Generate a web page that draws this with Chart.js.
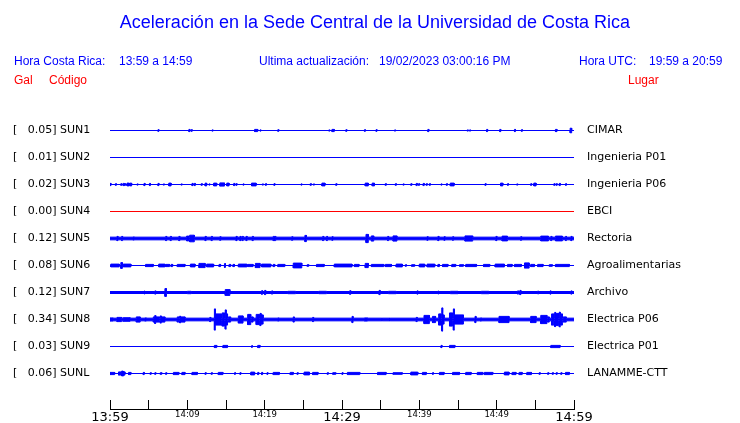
<!DOCTYPE html>
<html>
<head>
<meta charset="utf-8">
<script src="https://cdn.jsdelivr.net/npm/chart.js@4.4.1/dist/chart.umd.min.js"></script>
<style>
  body { margin: 0; background: #fff; }
  #wrap { position: relative; width: 740px; height: 423px; overflow: hidden; }
  canvas { position: absolute; left: 0; top: 0; }
  .t { position: absolute; font-family: "Liberation Sans", Arial, sans-serif; font-size: 12px;
       line-height: 14px; white-space: pre; color: #0000ff; }
  .red { color: #ff0000; }
  #title { font-size: 18px; line-height: 20px; left: 0; width: 750px; text-align: center; top: 12px; }
</style>
</head>
<body>
<div id="wrap">
  <canvas id="chart" width="740" height="423"></canvas>
  <div class="t" id="title">Aceleración en la Sede Central de la Universidad de Costa Rica</div>
  <div class="t" style="left:14px;top:54px">Hora Costa Rica:</div>
  <div class="t" style="left:119px;top:54px">13:59 a 14:59</div>
  <div class="t" style="left:259px;top:54px">Ultima actualización:</div>
  <div class="t" style="left:379px;top:54px">19/02/2023 03:00:16 PM</div>
  <div class="t" style="left:579px;top:54px">Hora UTC:</div>
  <div class="t" style="left:649px;top:54px">19:59 a 20:59</div>
  <div class="t red" style="left:14px;top:73px">Gal</div>
  <div class="t red" style="left:49px;top:73px">Código</div>
  <div class="t red" style="left:628px;top:73px">Lugar</div>
</div>
<script>
// estaciones (de arriba hacia abajo)
const codes = ['SUN1', 'SUN2', 'SUN3', 'SUN4', 'SUN5', 'SUN6', 'SUN7', 'SUN8', 'SUN9', 'SUNL'];
const peaks = ['0.05', '0.01', '0.02', '0.00', '0.12', '0.08', '0.12', '0.34', '0.03', '0.06'];
const places = ['CIMAR', 'Ingenieria P01', 'Ingenieria P06', 'EBCI', 'Rectoria',
  'Agroalimentarias', 'Archivo', 'Electrica P06', 'Electrica P01', 'LANAMME-CTT'];
const traceColors = ['#0000ff', '#0000ff', '#0000ff', '#ff0000', '#0000ff',
  '#0000ff', '#0000ff', '#0000ff', '#0000ff', '#0000ff'];

// eje de tiempo: minutos desde las 13:59
const xTickLabels = ['13:59', '', '14:09', '', '14:19', '', '14:29', '', '14:39', '', '14:49', '', '14:59'];

// amplitud de fondo de cada traza
const baseAmp = [0, 0, 0, 0, 1.35, 0, 1.0, 1.35, 0, 0];

// rafagas: [minuto inicio, minuto fin, amplitud]
const sun1 = [[6.2,6.2,1.2],[10.2,10.2,1.5],[10.5,10.5,1.2],[13.2,13.2,1.0],[18.7,19.1,1.5],[19.4,19.4,1.0],
  [21.7,21.7,1.2],[28.3,28.3,1.0],[28.7,29.0,1.5],[30.5,30.5,1.2],[32.9,32.9,1.2],[34.4,34.4,1.2],[36.8,36.8,1.0],
  [41.1,41.1,1.5],[46.2,46.2,1.0],[46.5,46.5,1.0],[48.7,48.7,1.5],[50.4,50.4,1.5],[52.3,52.3,1.5],[53.2,53.2,1.2],
  [57.6,57.8,1.5],[59.5,59.7,2.7]];
const sun2 = [];
const sun3 = [[0.0,0.0,1.5],[0.7,0.7,1.2],[1.4,1.4,1.2],[1.7,1.7,1.5],[1.9,1.9,1.2],[2.2,2.5,1.8],[2.6,2.8,1.8],
  [3.5,3.5,1.0],[4.4,4.4,1.5],[5.1,5.1,1.5],[6.2,6.2,1.5],[6.9,6.9,1.0],[7.6,7.9,1.8],[9.2,9.2,1.0],[10.6,10.6,1.5],
  [10.9,10.9,1.5],[11.8,11.8,1.2],[12.3,12.5,1.8],[12.8,12.8,1.0],[13.4,13.8,1.8],[14.2,14.8,2.0],[15.1,15.4,1.8],
  [16.0,16.0,1.5],[16.3,16.3,1.2],[17.2,17.2,1.0],[18.3,18.9,1.8],[19.7,19.7,1.0],[20.1,20.1,1.2],[21.2,21.2,1.2],
  [24.7,24.7,1.0],[25.9,25.9,1.2],[26.3,26.3,1.0],[27.4,27.8,1.8],[29.2,29.2,1.2],[33.0,33.4,1.8],[33.9,34.2,1.8],
  [35.6,35.6,1.2],[36.9,36.9,1.2],[37.9,37.9,1.0],[38.9,38.9,1.2],[39.6,39.6,1.5],[39.9,39.9,1.2],[40.5,40.5,1.5],
  [40.9,40.9,1.2],[41.3,41.3,1.2],[42.8,42.8,1.0],[43.5,43.5,1.2],[44.0,44.5,1.8],[48.5,48.5,1.2],[50.5,50.8,1.8],
  [51.4,51.4,1.2],[52.6,52.6,1.0],[54.4,54.4,1.2],[54.8,55.1,1.8],[57.4,57.4,1.2],[57.7,57.7,1.2],[58.1,58.1,1.5],
  [58.9,58.9,1.2]];
const sun4 = [];
const sun5 = [[0.9,0.9,2.5],[1.5,1.5,2.5],[3.0,3.0,2.0],[7.2,7.2,2.5],[7.8,7.8,2.5],[8.9,8.9,2.5],[9.9,10.2,2.8],
  [10.3,10.9,3.7],[12.3,12.3,2.5],[13.1,13.1,2.5],[14.2,14.2,2.2],[16.3,16.3,2.5],[16.8,16.8,2.5],[17.1,17.1,2.5],
  [17.6,17.6,2.5],[18.4,18.4,2.5],[21.1,21.1,2.5],[21.3,21.3,2.5],[23.5,23.5,2.2],[25.2,25.4,3.5],[27.5,27.5,2.5],
  [28.0,28.0,2.5],[28.7,28.7,2.2],[33.1,33.4,4.5],[33.8,34.1,3.0],[35.9,35.9,2.5],[36.6,37.1,3.0],[41.0,41.0,2.2],
  [42.4,42.4,2.5],[43.2,43.2,2.2],[44.3,44.3,2.2],[45.9,46.9,3.0],[49.9,49.9,2.5],[50.7,51.4,2.8],[53.1,53.1,2.2],
  [55.7,56.7,2.8],[57.0,57.0,2.5],[57.6,58.5,2.8],[58.9,58.9,2.5],[59.6,59.6,2.5]];
const sun6 = [[0.1,1.2,1.8],[1.4,1.6,3.3],[1.7,2.7,1.8],[4.6,5.6,1.5],[6.3,7.1,1.8],[7.2,7.7,1.5],[7.9,8.1,1.5],
  [8.7,9.7,1.5],[10.4,11.0,1.8],[11.5,12.3,2.5],[12.5,13.4,1.8],[14.1,14.3,1.5],[14.8,14.9,2.3],[15.4,15.6,1.5],
  [15.9,16.1,1.5],[16.6,17.7,1.8],[17.8,18.5,1.5],[18.8,19.4,2.5],[19.6,20.8,1.8],[21.1,21.3,1.5],[21.7,22.6,1.5],
  [23.7,24.8,2.8],[25.5,25.7,1.2],[26.7,27.7,1.5],[29.0,31.3,1.8],[31.6,32.2,1.5],[33.0,33.4,2.5],[33.8,35.4,1.5],
  [35.6,36.4,1.5],[37.0,37.8,1.8],[38.2,38.3,1.2],[39.0,39.4,1.2],[40.0,40.7,1.8],[41.0,42.0,1.8],[42.4,42.6,1.5],
  [43.0,43.7,1.5],[44.2,44.7,1.5],[45.2,45.7,1.2],[46.0,47.4,1.5],[48.3,49.1,1.5],[49.8,51.0,1.8],[51.4,52.0,1.5],
  [52.3,53.2,1.5],[53.6,54.2,3.0],[54.4,54.9,1.5],[55.3,56.0,1.5],[56.8,57.2,1.2],[57.6,59.4,1.5]];
const sun7 = [[4.4,4.4,1.8],[5.8,5.8,2.0],[7.1,7.3,4.3],[10.0,10.5,1.6],[14.9,15.5,3.3],[19.6,19.6,2.2],
  [20.0,20.0,2.5],[20.9,20.9,2.0],[23.0,24.0,1.6],[27.0,28.0,1.6],[31.0,31.0,2.2],[34.8,34.8,2.5],[36.0,37.0,1.6],
  [39.7,39.7,2.0],[42.4,42.4,1.8],[44.0,45.0,1.6],[48.0,49.0,1.6],[52.7,52.7,2.0],[53.0,53.0,2.5],[55.3,55.3,1.8],
  [56.9,56.9,2.0],[59.6,59.6,2.0]];
const sun8 = [[0.0,0.4,2.0],[0.9,1.5,2.5],[1.7,2.6,2.2],[3.4,3.9,3.0],[4.5,4.7,2.0],[5.6,5.7,3.0],[5.8,5.8,4.3],
  [5.9,6.4,3.0],[6.5,6.5,4.0],[6.6,7.1,3.0],[8.7,8.9,3.0],[9.0,9.0,3.7],[9.1,9.7,3.0],[12.9,12.9,2.5],
  [13.5,13.5,11.0],[13.6,14.4,6.0],[14.5,14.8,7.0],[14.9,14.9,10.0],[15.0,15.2,6.0],[15.3,15.6,3.0],[16.6,17.2,4.0],
  [17.8,18.2,5.5],[18.3,18.5,3.0],[18.9,19.3,5.5],[19.4,19.4,6.5],[19.5,19.8,5.0],[21.7,21.7,2.0],[23.7,23.7,3.0],
  [26.2,26.2,2.5],[31.3,31.3,3.5],[32.9,33.3,2.0],[35.1,35.1,1.8],[36.1,36.1,1.8],[39.6,39.6,2.5],[40.6,41.3,4.5],
  [41.7,42.1,3.5],[42.5,42.8,6.0],[42.9,42.9,12.0],[43.0,43.2,5.0],[43.9,44.3,7.0],[44.4,44.4,11.0],[44.5,45.7,5.0],
  [47.2,47.2,3.5],[47.9,47.9,2.0],[50.3,51.6,3.5],[54.4,55.1,3.5],[55.7,56.5,4.5],[56.6,56.8,3.0],[57.1,57.4,6.0],
  [57.5,57.5,7.5],[57.6,58.0,6.5],[58.1,58.1,7.8],[58.2,58.5,6.0],[58.6,59.0,3.0]];
const sun9 = [[13.5,13.8,1.5],[14.6,15.2,1.5],[18.3,18.3,1.2],[19.1,19.4,1.5],[42.8,42.8,1.5],[43.9,44.6,1.5],
  [57.0,58.2,1.5]];
const sunL = [[0.0,0.6,1.5],[1.1,1.4,2.0],[1.5,1.7,2.8],[1.8,1.9,2.0],[2.4,2.7,1.5],[4.3,4.3,1.5],[5.2,5.2,1.2],
  [5.8,5.8,1.2],[6.5,6.7,1.2],[7.2,7.2,1.2],[8.2,8.9,1.5],[9.3,9.7,1.5],[10.6,11.3,1.5],[12.3,12.3,1.2],
  [13.1,13.1,1.2],[14.0,14.6,1.5],[16.1,16.1,1.2],[16.8,16.8,1.2],[18.2,18.7,1.8],[19.1,19.1,1.5],[19.6,19.6,1.5],
  [20.3,20.3,1.2],[21.1,21.9,1.5],[23.3,23.7,1.5],[24.2,24.2,1.2],[25.1,25.8,1.8],[26.2,26.9,1.5],[28.1,28.1,1.2],
  [28.8,29.2,1.2],[30.0,30.0,1.2],[30.7,32.3,1.5],[34.6,35.7,1.5],[36.6,37.8,1.2],[38.9,39.8,1.8],[40.4,40.9,1.5],
  [41.7,41.7,1.2],[42.6,43.2,1.5],[44.3,45.2,1.5],[46.0,46.7,1.5],[47.5,48.2,1.5],[48.4,49.5,1.5],[51.0,51.6,1.8],
  [52.0,52.5,1.5],[52.9,53.3,1.5],[53.9,54.5,1.5],[55.5,55.5,1.2],[56.6,56.6,1.2],[57.2,57.2,1.2],[57.7,57.7,1.2],
  [58.3,58.3,1.2],[58.9,59.4,1.5]];
const bursts = [sun1, sun2, sun3, sun4, sun5, sun6, sun7, sun8, sun9, sunL];

// posicion vertical de cada traza en el eje y
const rowCenter = i => 20.5 + 27 * i;

// envolvente escalonada de cada traza (la amplitud leida incluye medio pixel del trazo)
function envelope(i) {
  const b = baseAmp[i];
  const pts = [[0, b]];
  bursts[i].forEach(r => {
    const t1 = Math.max(r[1], r[0] + 0.13);
    const a = Math.max(r[2] - 0.4, b);
    pts.push([r[0], b], [r[0], a], [t1, a], [t1, b]);
  });
  pts.push([60, b]);
  return pts;
}

const datasets = [];
codes.forEach((code, i) => {
  const env = envelope(i);
  const c = rowCenter(i);
  const common = { borderColor: traceColors[i], backgroundColor: traceColors[i], borderWidth: 1,
    pointRadius: 0, tension: 0, yAxisID: 'y' };
  datasets.push(Object.assign({ label: code + ' +', data: env.map(p => ({ x: p[0], y: c - p[1] })), fill: false }, common));
  datasets.push(Object.assign({ label: code + ' -', data: env.map(p => ({ x: p[0], y: c + p[1] })), fill: '-1' }, common));
});

new Chart(document.getElementById('chart'), {
  type: 'line',
  data: { datasets: datasets },
  options: {
    responsive: false,
    animation: false,
    events: [],
    layout: { padding: { top: 110, left: 13, right: 0, bottom: 0 } },
    plugins: { legend: { display: false }, tooltip: { enabled: false }, title: { display: false } },
    scales: {
      x: {
        type: 'linear', min: 0, max: 60,
        afterFit: s => { s.height = 14; },
        grid: { drawOnChartArea: false, drawTicks: true, tickLength: -9, color: '#000', tickWidth: 1 },
        border: { display: true, color: '#000', width: 1 },
        ticks: {
          stepSize: 5, autoSkip: false, maxRotation: 0, padding: 10, color: '#000',
          callback: (v, idx) => xTickLabels[idx],
          font: ctx => (ctx.index % 6 === 0)
            ? { family: 'DejaVu Sans', size: 13 }
            : { family: 'DejaVu Sans', size: 8.5 }
        }
      },
      y: {
        type: 'linear', position: 'left', reverse: true, min: 0, max: 299,
        afterBuildTicks: s => { s.ticks = codes.map((_, i) => ({ value: rowCenter(i) })); },
        afterFit: s => { s.width = 97; },
        grid: { display: false }, border: { display: false },
        ticks: {
          autoSkip: false, crossAlign: 'far', padding: 0, color: '#000',
          font: { family: 'DejaVu Sans', size: 11 },
          callback: (v, i) => '[   ' + peaks[i] + '] ' + codes[i]
        }
      },
      yR: {
        type: 'linear', position: 'right', reverse: true, min: 0, max: 299,
        afterBuildTicks: s => { s.ticks = codes.map((_, i) => ({ value: rowCenter(i) })); },
        afterFit: s => { s.width = 166; },
        // el hueco hasta el nombre se hace con la marca (invisible), no con el padding
        grid: { display: false, drawTicks: true, tickLength: 13 }, border: { display: false },
        ticks: {
          autoSkip: false, padding: 0, color: '#000',
          font: { family: 'DejaVu Sans', size: 11 },
          callback: (v, i) => places[i]
        }
      }
    }
  }
});
</script>
</body>
</html>
